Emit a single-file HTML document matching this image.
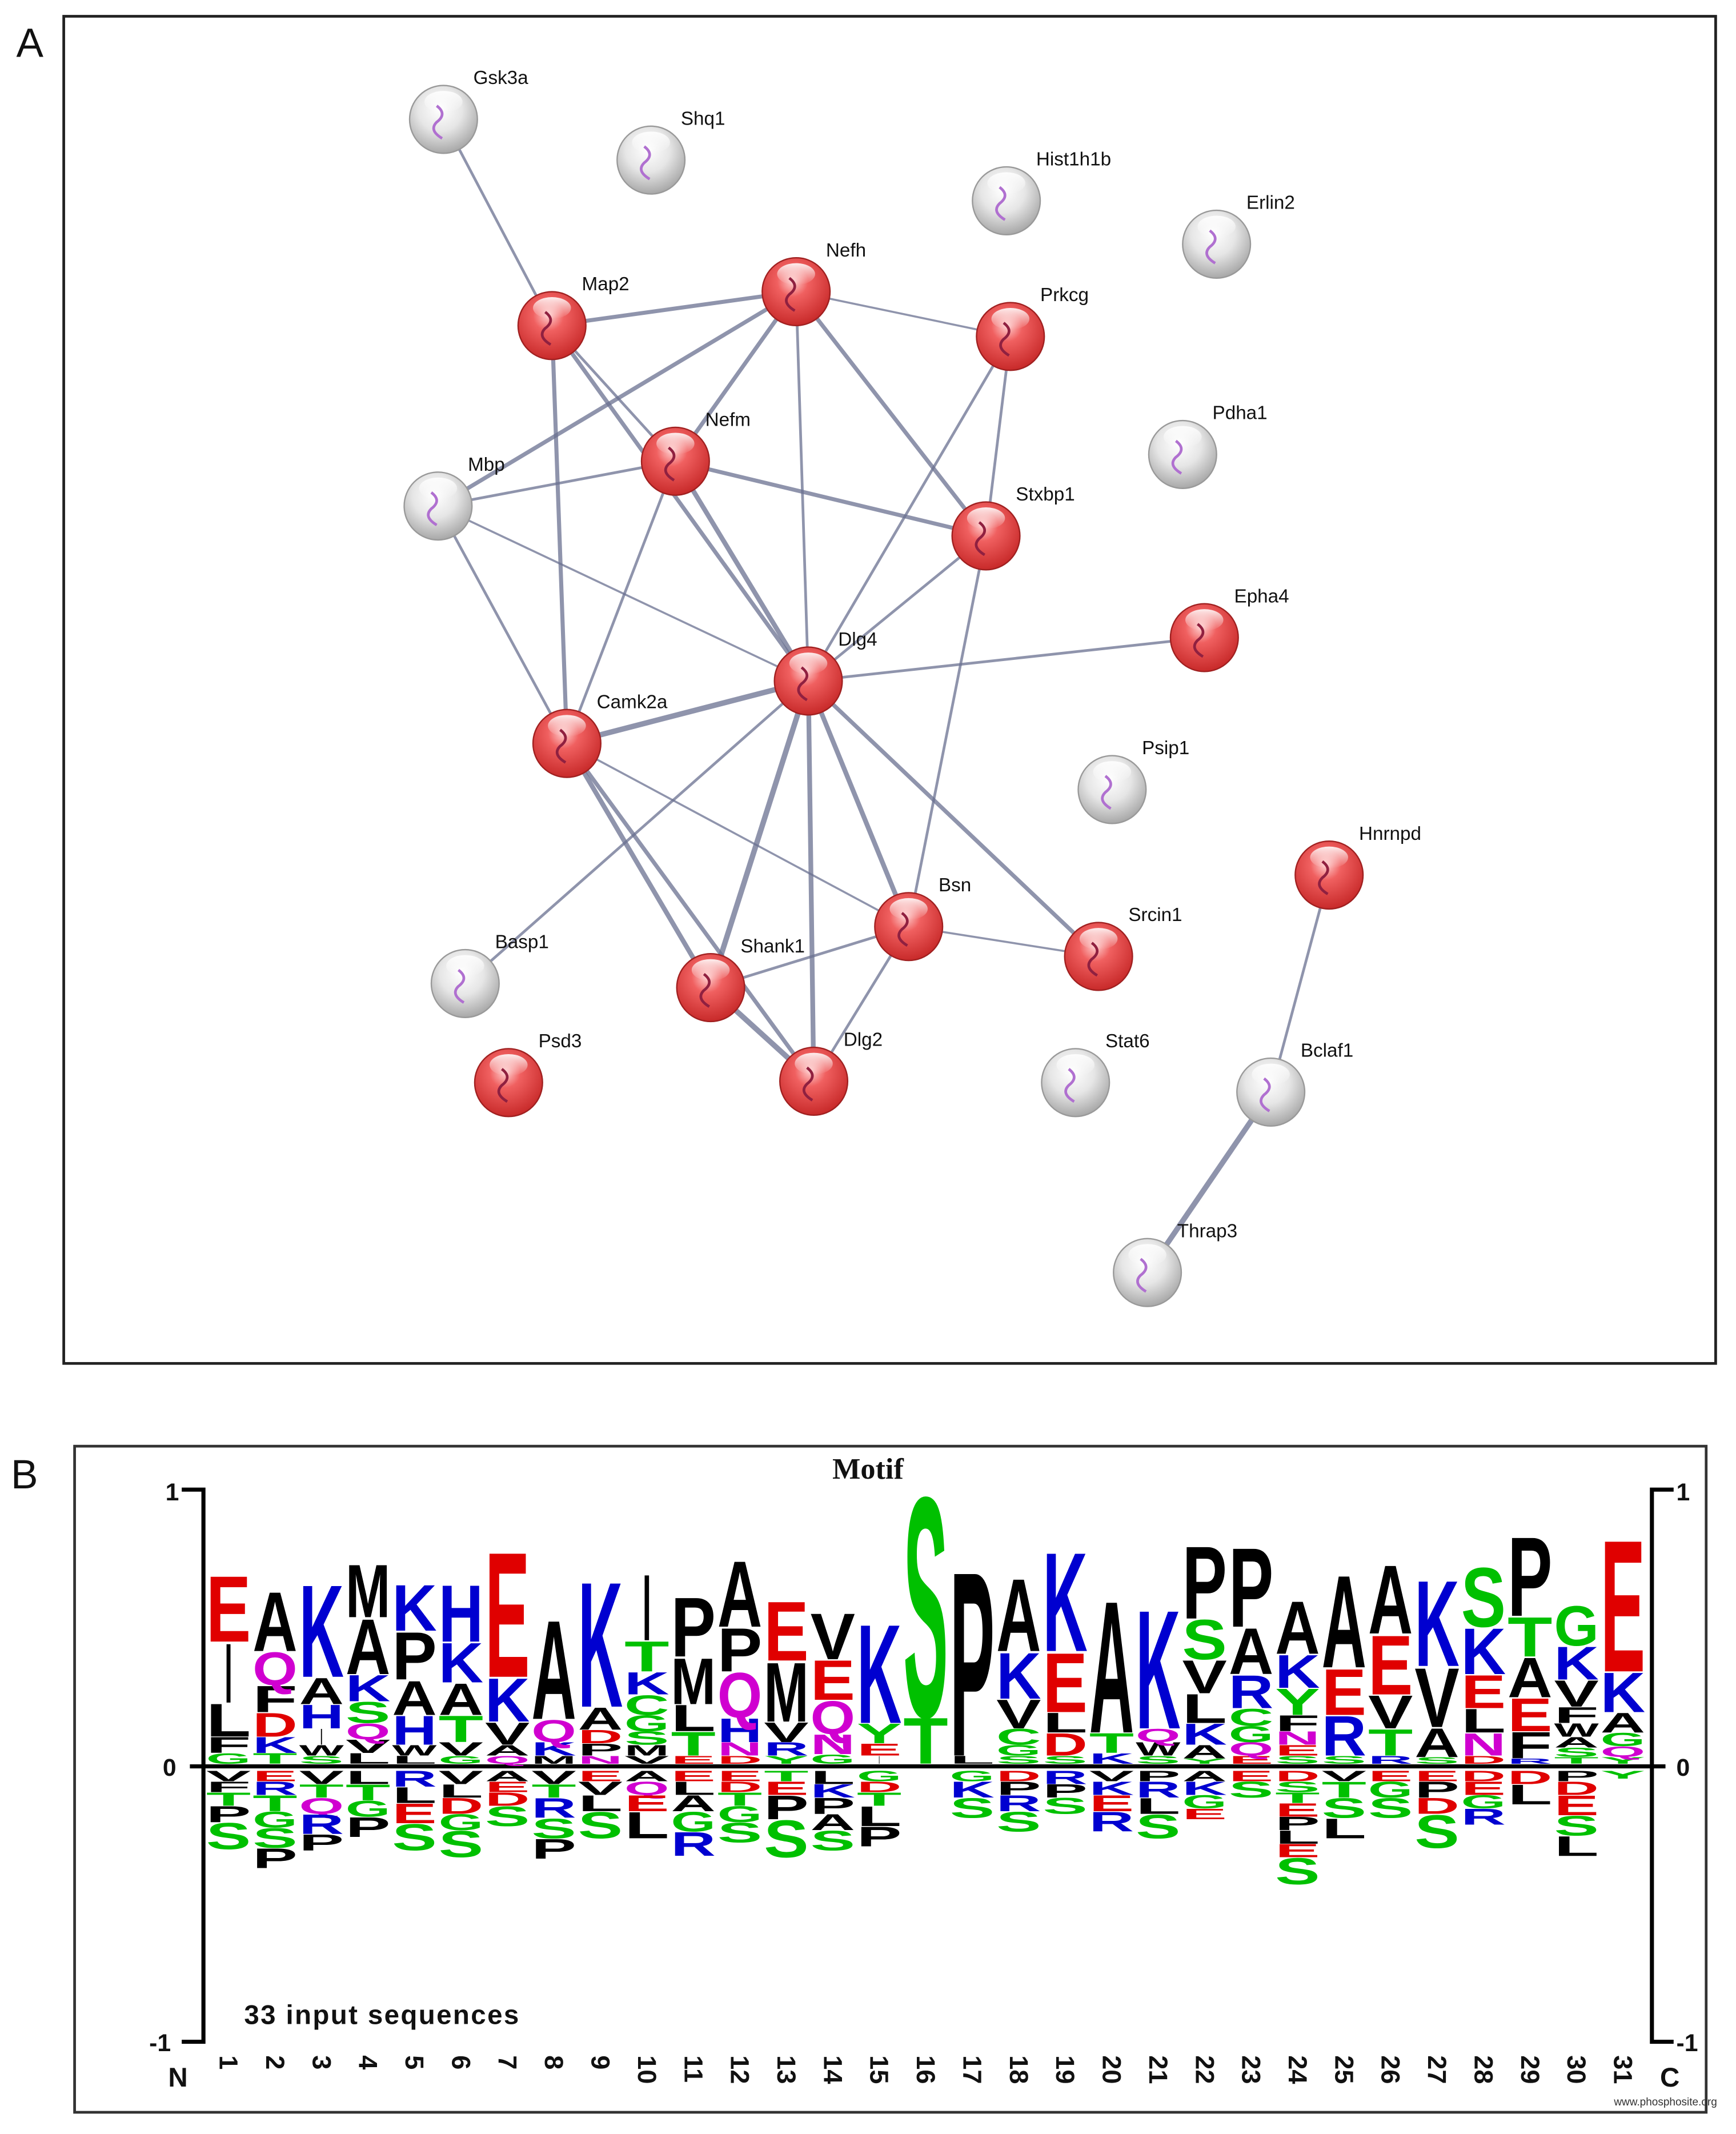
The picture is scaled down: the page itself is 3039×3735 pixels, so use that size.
<!DOCTYPE html>
<html><head><meta charset="utf-8"><style>
html,body{margin:0;padding:0;background:#fff;}
svg{display:block;}
.nl{font-family:"Liberation Sans",sans-serif;font-size:14px;fill:#111;}
</style></head><body>
<svg id="s" width="3039" height="3735" viewBox="0 0 1280 1573" preserveAspectRatio="none" xmlns="http://www.w3.org/2000/svg">
<defs>
<radialGradient id="gr" cx="45%" cy="35%" r="65%"><stop offset="0" stop-color="#ffd0d0"/><stop offset="0.35" stop-color="#f06060"/><stop offset="1" stop-color="#c82a2a"/></radialGradient>
<radialGradient id="gg" cx="45%" cy="35%" r="65%"><stop offset="0" stop-color="#ffffff"/><stop offset="0.5" stop-color="#e6e6e6"/><stop offset="1" stop-color="#a8a8a8"/></radialGradient>
<linearGradient id="hl" x1="0" y1="0" x2="0" y2="1"><stop offset="0" stop-color="#fff" stop-opacity="0.9"/><stop offset="1" stop-color="#fff" stop-opacity="0"/></linearGradient>
</defs>
<rect x="47" y="12" width="1218" height="993" fill="none" stroke="#222" stroke-width="2"/>
<text x="12" y="42" font-family="Liberation Sans,sans-serif" font-size="30" fill="#111">A</text>
<g id="edges"></g><g id="nodes"></g>
<text x="8" y="1097" font-family="Liberation Sans,sans-serif" font-size="30" fill="#111">B</text>
<rect x="55" y="1066" width="1203" height="491" fill="none" stroke="#333" stroke-width="2"/>
<text x="640" y="1090" text-anchor="middle" font-family="Liberation Serif,serif" font-weight="bold" font-size="22" fill="#111">Motif</text>
<g stroke="#000" stroke-width="3" fill="none">
<path d="M134 1098 H150 V1505 H134"/><path d="M1234 1098 H1218 V1505 H1234"/>
</g>
<line x1="140" y1="1302" x2="1228" y2="1302" stroke="#000" stroke-width="3"/>
<g font-family="Liberation Sans,sans-serif" font-weight="bold" font-size="18" fill="#111">
<text x="122" y="1106">1</text><text x="120" y="1309">0</text><text x="110" y="1512">-1</text>
<text x="1236" y="1106">1</text><text x="1236" y="1309">0</text><text x="1236" y="1512">-1</text>
<text x="124" y="1538" font-size="20">N</text><text x="1224" y="1538" font-size="20">C</text>
<text x="180" y="1492" font-size="20" letter-spacing="1">33 input sequences</text>
</g>
<text x="1190" y="1552" font-family="Liberation Sans,sans-serif" font-size="8" fill="#333">www.phosphosite.org</text>
<g id="logo"></g><g id="ticks"></g>
</svg>
<script>
var NS="http://www.w3.org/2000/svg";
function el(t,a,p,txt){var e=document.createElementNS(NS,t);for(var k in a)e.setAttribute(k,a[k]);if(txt!=null)e.textContent=txt;document.getElementById(p).appendChild(e);return e;}
var N={Gsk3a:[327,88,0],Shq1:[480,118,0],Hist1h1b:[742,148,0],Erlin2:[897,180,0],Map2:[407,240,1],Nefh:[587,215,1],Prkcg:[745,248,1],Pdha1:[872,335,0],Mbp:[323,373,0],Nefm:[498,340,1],Stxbp1:[727,395,1],Epha4:[888,470,1],Dlg4:[596,502,1],Camk2a:[418,548,1],Psip1:[820,582,0],Hnrnpd:[980,645,1],Bsn:[670,683,1],Srcin1:[810,705,1],Basp1:[343,725,0],Shank1:[524,728,1],Psd3:[375,798,1],Dlg2:[600,797,1],Stat6:[793,798,0],Bclaf1:[937,805,0],Thrap3:[846,938,0]};
var E=[["Gsk3a","Map2",2],["Map2","Nefh",3],["Map2","Nefm",2],["Mbp","Nefh",3],["Mbp","Nefm",2],["Mbp","Camk2a",2],["Mbp","Dlg4",1.5],["Map2","Camk2a",3],["Map2","Dlg4",3],["Nefh","Nefm",3],["Nefh","Prkcg",1.5],["Nefh","Stxbp1",3],["Nefh","Dlg4",2],["Nefm","Stxbp1",3],["Nefm","Dlg4",3.5],["Nefm","Camk2a",2],["Prkcg","Dlg4",2],["Prkcg","Stxbp1",2],["Stxbp1","Dlg4",2],["Stxbp1","Bsn",2],["Dlg4","Epha4",2],["Dlg4","Camk2a",4],["Dlg4","Shank1",4],["Dlg4","Dlg2",3.5],["Dlg4","Bsn",3.5],["Dlg4","Srcin1",3],["Dlg4","Basp1",2],["Camk2a","Shank1",3.5],["Camk2a","Dlg2",3],["Camk2a","Bsn",1.5],["Shank1","Bsn",2],["Shank1","Dlg2",4],["Bsn","Dlg2",2],["Bsn","Srcin1",1.5],["Hnrnpd","Bclaf1",2],["Bclaf1","Thrap3",4]];
E.forEach(function(e){var a=N[e[0]],b=N[e[1]];el("line",{x1:a[0],y1:a[1],x2:b[0],y2:b[1],stroke:"#6a7090","stroke-width":e[2],"stroke-opacity":0.75},"edges");});
for(var k in N){var n=N[k];el("circle",{cx:n[0],cy:n[1],r:25,fill:n[2]?"url(#gr)":"url(#gg)",stroke:n[2]?"#a02020":"#999","stroke-width":1},"nodes");
el("ellipse",{cx:n[0],cy:n[1]-13,rx:14,ry:8,fill:"url(#hl)"},"nodes");
el("path",{d:"M"+(n[0]-5)+" "+(n[1]-10)+" q8 6 0 12 q-6 6 4 12",stroke:n[2]?"#902040":"#b070d0","stroke-width":2,fill:"none"},"nodes");
el("text",{x:n[0]+22,y:n[1]-26,"class":"nl"},"nodes",k);}
var C={E:"#e00000",D:"#e00000",K:"#0000d0",R:"#0000d0",H:"#0000d0",S:"#00c000",T:"#00c000",G:"#00c000",C:"#00c000",Y:"#00c000",Q:"#d000d0",N:"#d000d0"};
var UP=[[["G",8],["F",12],["L",25],["I",45],["E",50]],[["T",8],["K",12],["D",18],["F",20],["Q",25],["A",45]],[["S",6],["W",8],["I",12],["H",18],["A",20],["K",70]],[["L",8],["V",10],["Q",12],["S",16],["K",20],["A",42],["M",40]],[["L",6],["W",8],["H",22],["A",26],["P",36],["K",35]],[["G",6],["V",10],["T",20],["A",24],["K",30],["H",43]],[["Q",6],["A",8],["V",17],["K",33],["E",95]],[["M",6],["K",10],["Q",17],["A",75]],[["N",6],["P",9],["D",10],["A",17],["K",95]],[["V",6],["M",8],["S",10],["G",12],["C",15],["K",17],["T",23],["I",50]],[["E",6],["T",18],["L",20],["M",35],["P",45]],[["D",6],["N",10],["H",18],["Q",34],["P",33],["A",50]],[["Y",6],["R",10],["V",15],["M",45],["E",45]],[["G",7],["N",15],["Q",25],["E",30],["V",35]],[["I",6],["E",9],["Y",15],["K",75]],[["T",35],["S",167]],[["L",6],["P",140]],[["S",6],["G",8],["C",12],["V",22],["K",35],["A",55]],[["S",6],["D",17],["L",15],["E",45],["K",75]],[["K",8],["T",15],["A",100]],[["S",6],["W",10],["Q",10],["K",90]],[["Y",4],["A",10],["K",16],["L",22],["V",25],["S",30],["P",55]],[["E",6],["Q",10],["G",12],["C",13],["R",25],["A",35],["P",60]],[["S",6],["E",8],["N",10],["F",12],["Y",20],["K",25],["A",40]],[["S",6],["R",30],["E",35],["A",70]],[["R",6],["T",20],["V",25],["E",45],["A",52]],[["S",5],["A",22],["V",45],["K",65]],[["D",6],["N",17],["L",18],["E",25],["K",35],["S",45]],[["R",4],["F",20],["E",25],["A",30],["T",30],["P",60]],[["T",5],["S",7],["A",8],["W",10],["F",12],["V",20],["K",25],["G",30]],[["Y",5],["Q",8],["G",10],["A",15],["K",30],["E",100]]];
var DN=[[["V",8],["F",8],["T",10],["P",12],["S",20]],[["E",8],["R",10],["T",12],["G",12],["S",15],["P",15]],[["V",10],["T",10],["Q",12],["R",15],["P",12]],[["L",10],["T",12],["G",12],["P",15]],[["R",12],["L",12],["E",15],["S",20]],[["V",10],["L",10],["D",12],["G",12],["S",20]],[["A",8],["E",8],["D",10],["S",15]],[["V",10],["T",10],["R",15],["S",15],["P",15]],[["E",8],["V",10],["L",12],["S",20]],[["A",8],["Q",10],["E",12],["L",20]],[["E",8],["L",10],["A",12],["G",15],["R",18]],[["E",8],["D",8],["T",10],["G",12],["S",15]],[["T",8],["E",10],["P",18],["S",28]],[["L",10],["K",10],["P",12],["A",12],["S",15]],[["G",8],["D",8],["T",10],["L",15],["P",15]],[],[["G",8],["K",12],["S",15]],[["D",8],["P",10],["R",12],["S",15]],[["R",10],["P",10],["S",12]],[["V",8],["K",10],["E",12],["R",15]],[["P",8],["R",12],["L",12],["S",18]],[["A",8],["K",10],["G",10],["E",8]],[["E",8],["S",12]],[["D",8],["S",8],["T",8],["E",10],["P",10],["L",10],["E",10],["S",20]],[["V",8],["T",12],["S",15],["L",15]],[["E",8],["G",12],["S",15]],[["E",8],["P",12],["D",12],["S",25]],[["D",8],["E",10],["G",10],["R",12]],[["D",10],["L",15]],[["P",8],["D",10],["E",15],["S",15],["L",15]],[["Y",6]]];
function L(ch,x,yb,h){var fs=h/0.72;
if(ch==="I"){el("text",{x:x+16.5,y:yb,"text-anchor":"middle","font-family":"Liberation Sans,sans-serif","font-size":fs.toFixed(1),fill:"#000",transform:"translate("+(x+16.5)+","+yb+") scale(0.5,1) translate("+(-(x+16.5))+","+(-yb)+")"},"logo",ch);return;}
el("text",{x:x,y:yb,"font-family":"Liberation Sans,sans-serif","font-weight":"bold","font-size":fs.toFixed(1),fill:C[ch]||"#000",textLength:33,lengthAdjust:"spacingAndGlyphs"},"logo",ch);}
for(var i=0;i<31;i++){var x=152+i*34.27,y=1300;UP[i].forEach(function(l){L(l[0],x,y,l[1]);y-=l[1];});
y=1305;DN[i].forEach(function(l){y+=l[1];L(l[0],x,y,l[1]);});
el("text",{x:0,y:0,transform:"translate("+(x+10)+",1515) rotate(90)","font-family":"Liberation Sans,sans-serif","font-weight":"bold","font-size":"19",fill:"#111"},"ticks",String(i+1));}
</script>
</body></html>
